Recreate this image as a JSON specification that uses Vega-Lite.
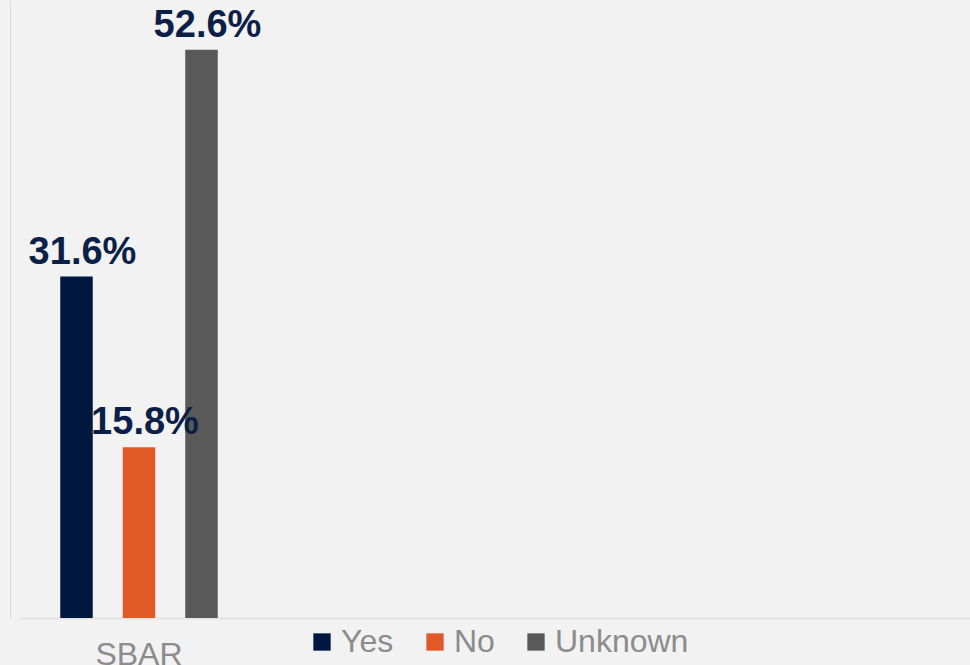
{
  "$schema": "https://vega.github.io/schema/vega-lite/v6.json",
  "width": 950,
  "height": 618,
  "autosize": {"type": "none"},
  "padding": {"left": 20, "top": 0, "right": 0, "bottom": 47},
  "background": "#f2f2f2",
  "config": {"view": {"stroke": null}, "font": "Liberation Sans"},
  "data": {
    "values": [
      {"category": "SBAR", "response": "Yes", "value": 0.316},
      {"category": "SBAR", "response": "No", "value": 0.158},
      {"category": "SBAR", "response": "Unknown", "value": 0.526}
    ]
  },
  "encoding": {
    "x": {
      "field": "category",
      "type": "nominal",
      "scale": {"paddingInner": 0.3315, "paddingOuter": 1, "align": 0},
      "axis": {
        "domainColor": "#e3e3e3",
        "domainWidth": 2,
        "ticks": false,
        "tickSize": 0,
        "labelFontSize": 32,
        "labelColor": "#8c8c8c",
        "labelPadding": 21,
        "labelAngle": 0,
        "title": null
      }
    },
    "xOffset": {
      "field": "response",
      "type": "nominal",
      "sort": ["Yes", "No", "Unknown"],
      "scale": {"paddingInner": 0.48, "paddingOuter": 0.644}
    },
    "y": {
      "field": "value",
      "type": "quantitative",
      "scale": {"domain": [0, 0.572]},
      "axis": {
        "domain": true,
        "domainColor": "#dadada",
        "labels": false,
        "ticks": false,
        "grid": false,
        "title": null,
        "offset": 10
      }
    }
  },
  "layer": [
    {
      "mark": {"type": "bar"},
      "encoding": {
        "color": {
          "field": "response",
          "type": "nominal",
          "sort": ["Yes", "No", "Unknown"],
          "scale": {"domain": ["Yes", "No", "Unknown"], "range": ["#00183f", "#e05a28", "#595959"]},
          "legend": {
            "orient": "none",
            "legendX": 286,
            "legendY": 626,
            "direction": "horizontal",
            "symbolType": "square",
            "symbolSize": 300,
            "symbolStrokeWidth": 0,
            "labelFontSize": 32,
            "labelColor": "#8c8c8c",
            "title": null,
            "columnPadding": 25,
            "labelOffset": 3,
            "padding": 0
          }
        }
      }
    },
    {
      "mark": {"type": "text", "baseline": "alphabetic", "dy": -13, "dx": 6, "fontSize": 38, "fontWeight": "bold", "color": "#0b1f47"},
      "encoding": {"text": {"field": "value", "type": "quantitative", "format": ".1%"}}
    }
  ]
}
